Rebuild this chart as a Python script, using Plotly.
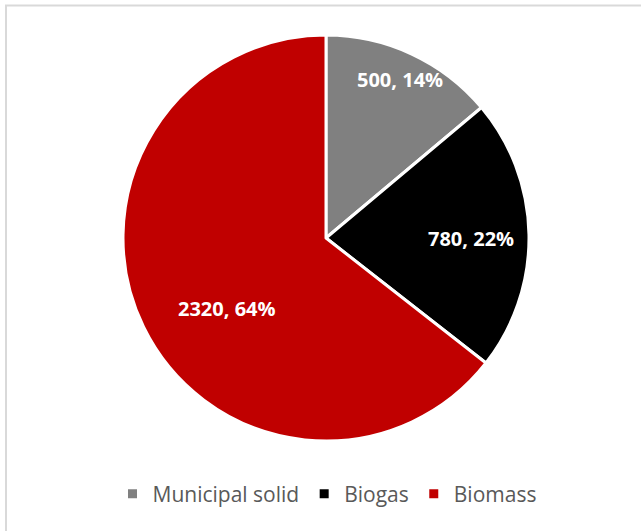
import math
import plotly.graph_objects as go

categories = ["Municipal solid", "Biogas", "Biomass"]
values = [500, 780, 2320]
colors = ["#808080", "#000000", "#C00000"]

W, H = 641, 531
cx, cy, r = 326, 238, 203
label_radius = [0.86, 0.714, 0.60]   # fraction of pie radius (style)
label_shift_deg = [0, 1, -9.5]       # angular nudge of label (style)

fig = go.Figure(go.Pie(
    labels=categories,
    values=values,
    sort=False,
    direction="clockwise",
    rotation=0,
    marker=dict(colors=colors, line=dict(color="white", width=3)),
    textinfo="none",
    domain=dict(x=[(cx - r) / W, (cx + r) / W], y=[(H - cy - r) / H, (H - cy + r) / H]),
    hoverinfo="label+value+percent",
))

total = sum(values)
annotations = []
cum = 0
for v, f, s in zip(values, label_radius, label_shift_deg):
    mid = (cum + v / 2) / total * 2 * math.pi + math.radians(s)
    cum += v
    px = cx + f * r * math.sin(mid)
    py = cy - f * r * math.cos(mid)
    annotations.append(dict(
        x=px / W, y=(H - py) / H, xref="paper", yref="paper",
        text=f"{v}, {round(v / total * 100)}%", showarrow=False,
        font=dict(family="Open Sans", size=20, color="white", weight="bold"),
        xanchor="center", yanchor="middle",
    ))

fig.update_layout(
    width=W, height=H,
    margin=dict(l=0, r=0, t=0, b=0, autoexpand=False),
    paper_bgcolor="white",
    showlegend=True,
    legend=dict(orientation="h", x=327 / W, xanchor="center", y=(H - 494) / H, yanchor="middle",
                font=dict(family="Open Sans", size=21, color="#595959"),
                itemwidth=30, traceorder="normal"),
    annotations=annotations,
    shapes=[dict(type="rect", xref="paper", yref="paper", x0=6 / W, y0=-0.1, x1=1.1, y1=(H - 5.5) / H,
                 line=dict(color="#D9D9D9", width=2), fillcolor="rgba(0,0,0,0)", layer="below")],
)

fig.write_html("out.html", config={"displayModeBar": False},
               post_script="document.body.style.margin='0';")
